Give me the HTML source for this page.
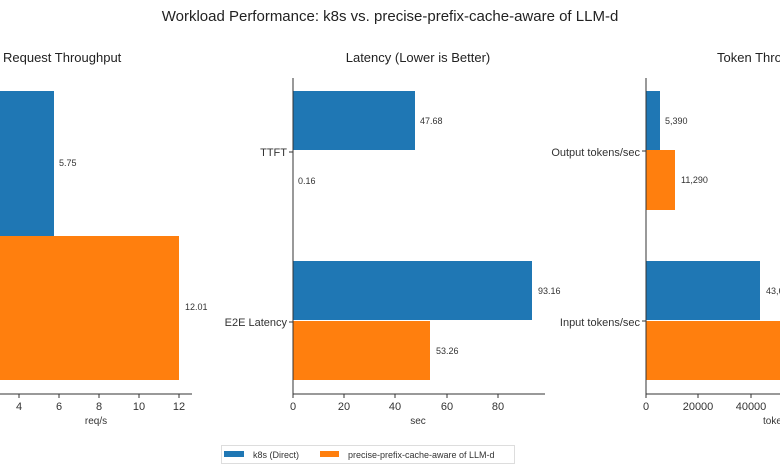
<!DOCTYPE html>
<html><head><meta charset="utf-8"><style>
body{margin:0;background:#fff;width:780px;height:470px;overflow:hidden}
svg{font-family:"Liberation Sans",sans-serif}
</style></head><body>
<svg width="780" height="470" viewBox="0 0 780 470" xmlns="http://www.w3.org/2000/svg">
<text x="390" y="21" text-anchor="middle" font-size="15" fill="#222">Workload Performance: k8s vs. precise-prefix-cache-aware of LLM-d</text>
<!-- Panel 1 -->
<text x="3" y="62" font-size="13" fill="#222">Request Throughput</text>
<rect x="0" y="91" width="54" height="145" fill="#1f77b4"/>
<rect x="0" y="236" width="179" height="144" fill="#ff7f0e"/>
<text x="59" y="166" font-size="9" fill="#333">5.75</text>
<text x="185" y="310" font-size="9" fill="#333">12.01</text>
<line x1="0" y1="394" x2="192" y2="394" stroke="#333" stroke-width="1"/>
<g font-size="11" fill="#333" text-anchor="middle">
<line x1="19" y1="394" x2="19" y2="398" stroke="#333"/><text x="19" y="410">4</text>
<line x1="59" y1="394" x2="59" y2="398" stroke="#333"/><text x="59" y="410">6</text>
<line x1="99" y1="394" x2="99" y2="398" stroke="#333"/><text x="99" y="410">8</text>
<line x1="139" y1="394" x2="139" y2="398" stroke="#333"/><text x="139" y="410">10</text>
<line x1="179" y1="394" x2="179" y2="398" stroke="#333"/><text x="179" y="410">12</text>
<text x="96" y="424" font-size="10">req/s</text>
</g>
<!-- Panel 2 -->
<text x="418" y="62" text-anchor="middle" font-size="13" fill="#222">Latency (Lower is Better)</text>
<rect x="293" y="91" width="122" height="59" fill="#1f77b4"/>
<rect x="293" y="261" width="239" height="59" fill="#1f77b4"/>
<rect x="293" y="321" width="137" height="59" fill="#ff7f0e"/>
<text x="420" y="124" font-size="9" fill="#333">47.68</text>
<text x="298" y="184" font-size="9" fill="#333">0.16</text>
<text x="538" y="294" font-size="9" fill="#333">93.16</text>
<text x="436" y="354" font-size="9" fill="#333">53.26</text>
<text x="287" y="156" text-anchor="end" font-size="11" fill="#333">TTFT</text>
<text x="287" y="326" text-anchor="end" font-size="11" fill="#333">E2E Latency</text>
<line x1="293" y1="78" x2="293" y2="394" stroke="#333"/>
<line x1="293" y1="394" x2="545" y2="394" stroke="#333"/>
<line x1="289" y1="152" x2="293" y2="152" stroke="#333"/>
<line x1="289" y1="322" x2="293" y2="322" stroke="#333"/>
<g font-size="11" fill="#333" text-anchor="middle">
<line x1="293" y1="394" x2="293" y2="398" stroke="#333"/><text x="293" y="410">0</text>
<line x1="344" y1="394" x2="344" y2="398" stroke="#333"/><text x="344" y="410">20</text>
<line x1="395" y1="394" x2="395" y2="398" stroke="#333"/><text x="395" y="410">40</text>
<line x1="447" y1="394" x2="447" y2="398" stroke="#333"/><text x="447" y="410">60</text>
<line x1="498" y1="394" x2="498" y2="398" stroke="#333"/><text x="498" y="410">80</text>
<text x="418" y="424" font-size="10">sec</text>
</g>
<!-- Panel 3 -->
<text x="717" y="62" font-size="13" fill="#222">Token Throughput</text>
<rect x="646" y="91" width="14" height="59" fill="#1f77b4"/>
<rect x="646" y="150" width="29" height="60" fill="#ff7f0e"/>
<rect x="646" y="261" width="114" height="59" fill="#1f77b4"/>
<rect x="646" y="321" width="140" height="59" fill="#ff7f0e"/>
<text x="665" y="124" font-size="9" fill="#333">5,390</text>
<text x="681" y="183" font-size="9" fill="#333">11,290</text>
<text x="766" y="294" font-size="9" fill="#333">43,617</text>
<text x="640" y="156" text-anchor="end" font-size="11" fill="#333">Output tokens/sec</text>
<text x="640" y="326" text-anchor="end" font-size="11" fill="#333">Input tokens/sec</text>
<line x1="646" y1="78" x2="646" y2="394" stroke="#333"/>
<line x1="646" y1="394" x2="780" y2="394" stroke="#333"/>
<line x1="642" y1="151" x2="646" y2="151" stroke="#333"/>
<line x1="642" y1="321" x2="646" y2="321" stroke="#333"/>
<g font-size="11" fill="#333" text-anchor="middle">
<line x1="646" y1="394" x2="646" y2="398" stroke="#333"/><text x="646" y="410">0</text>
<line x1="698" y1="394" x2="698" y2="398" stroke="#333"/><text x="698" y="410">20000</text>
<line x1="751" y1="394" x2="751" y2="398" stroke="#333"/><text x="751" y="410">40000</text>
<text x="763" y="424" font-size="10" text-anchor="start">tokens/s</text>
</g>
<!-- Legend -->
<rect x="221.5" y="445.5" width="293" height="18" fill="#fff" stroke="#ddd"/>
<rect x="224" y="451" width="20" height="6" fill="#1f77b4"/>
<text x="253" y="458" font-size="9" fill="#333">k8s (Direct)</text>
<rect x="320" y="451" width="19" height="6" fill="#ff7f0e"/>
<text x="348" y="458" font-size="9" fill="#333">precise-prefix-cache-aware of LLM-d</text>
</svg>
</body></html>
